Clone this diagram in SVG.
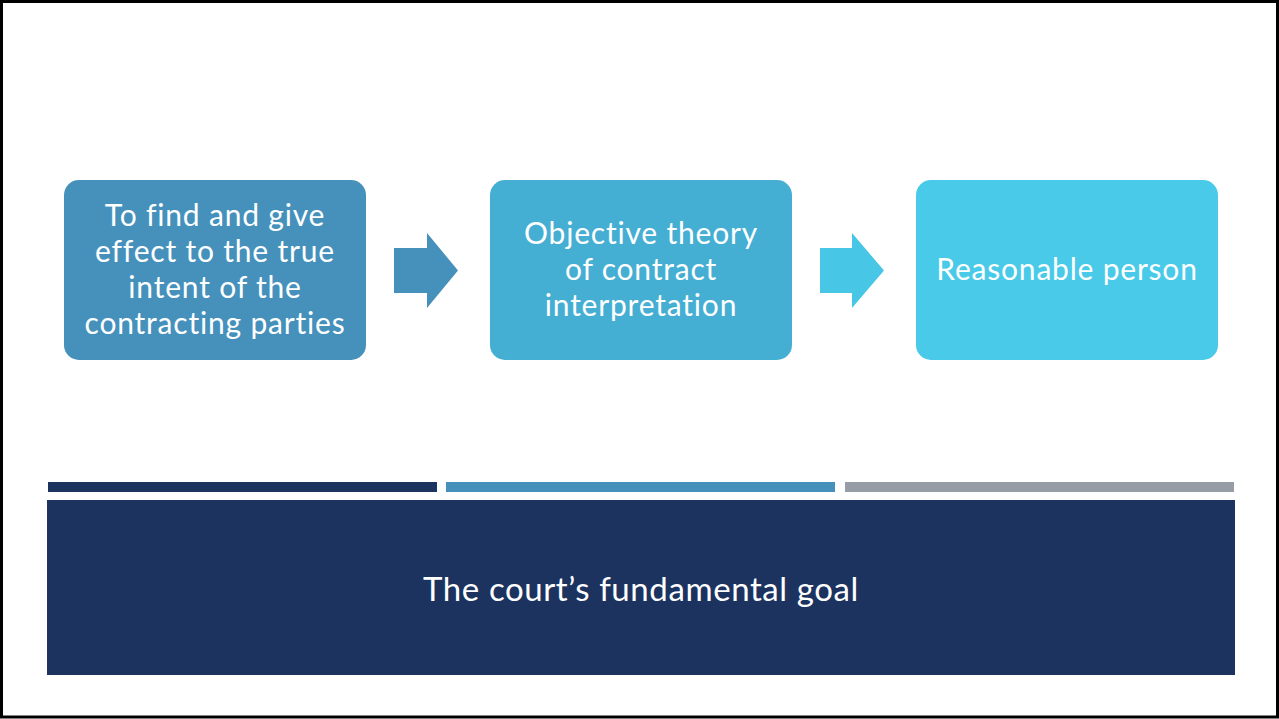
<svg xmlns="http://www.w3.org/2000/svg" width="1279" height="719" viewBox="0 0 1279 719">
  <style>
    .lbl { font-family: Lato, "Open Sans", "Liberation Sans", sans-serif; font-size: 30px; letter-spacing: 0.8px; fill: #ffffff; text-anchor: middle; }
    .goal { font-family: Lato, "Open Sans", "Liberation Sans", sans-serif; font-size: 33px; letter-spacing: 0.6px; fill: #ffffff; text-anchor: middle; }
  </style>
  <rect x="0" y="0" width="1279" height="719" fill="#ffffff"/>
  <rect x="1.5" y="1.5" width="1276" height="715.5" fill="none" stroke="#000000" stroke-width="3"/>

  <g id="step1">
    <rect x="64" y="180" width="302" height="180" rx="15" fill="#4591BC"/>
    <text class="lbl" x="215" y="226">To find and give</text>
    <text class="lbl" x="215" y="262">effect to the true</text>
    <text class="lbl" x="215" y="298">intent of the</text>
    <text class="lbl" x="215" y="334">contracting parties</text>
  </g>
  <g id="step2">
    <rect x="490" y="180" width="302" height="180" rx="15" fill="#45AED3"/>
    <text class="lbl" x="641" y="244">Objective theory</text>
    <text class="lbl" x="641" y="280">of contract</text>
    <text class="lbl" x="641" y="316">interpretation</text>
  </g>
  <g id="step3">
    <rect x="916" y="180" width="302" height="180" rx="15" fill="#48CAE8"/>
    <text class="lbl" x="1067" y="280">Reasonable person</text>
  </g>

  <g id="connectors">
    <polygon points="394,248 427,248 427,233 458,270.5 427,308 427,293 394,293" fill="#4591BC"/>
    <polygon points="820,248 852,248 852,233 884,270.5 852,308 852,293 820,293" fill="#48C6E6"/>
  </g>

  <g id="goal">
    <rect x="48" y="482" width="389" height="10" fill="#1C3360"/>
    <rect x="446" y="482" width="389" height="10" fill="#4591BC"/>
    <rect x="845" y="482" width="389" height="10" fill="#969DA6"/>
    <rect x="47" y="500" width="1188" height="175" fill="#1C3360"/>
    <text class="goal" x="641" y="601">The court’s fundamental goal</text>
  </g>
</svg>
